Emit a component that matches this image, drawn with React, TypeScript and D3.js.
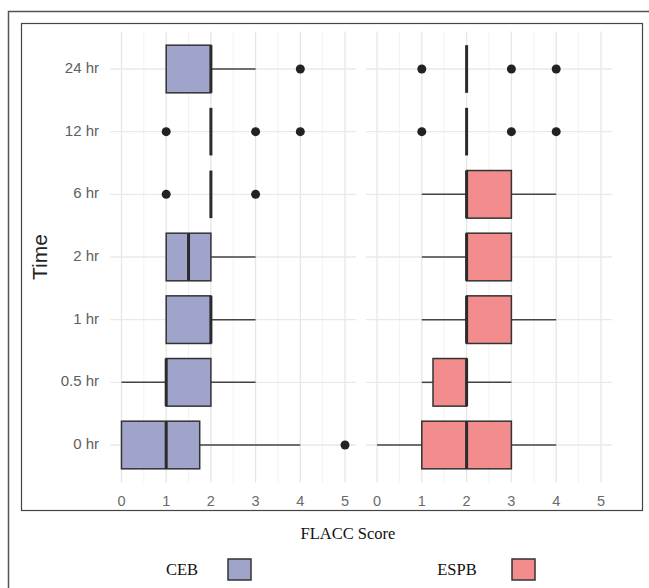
import React from "react";
import * as d3 from "d3";

const times = ["24 hr", "12 hr", "6 hr", "2 hr", "1 hr", "0.5 hr", "0 hr"];
const xTicks = [0, 1, 2, 3, 4, 5];
const groups = ["CEB", "ESPB"];

// [time, whiskerLow, q1, median, q3, whiskerHigh]
const cebStats: [string, number, number, number, number, number][] = [
  ["24 hr", 1, 1, 2, 2, 3],
  ["12 hr", 2, 2, 2, 2, 2],
  ["6 hr", 2, 2, 2, 2, 2],
  ["2 hr", 1, 1, 1.5, 2, 3],
  ["1 hr", 1, 1, 2, 2, 3],
  ["0.5 hr", 0, 1, 1, 2, 3],
  ["0 hr", 0, 0, 1, 1.75, 4],
];
const cebOutliers: [string, number][] = [
  ["24 hr", 4],
  ["12 hr", 1], ["12 hr", 3], ["12 hr", 4],
  ["6 hr", 1], ["6 hr", 3],
  ["0 hr", 5],
];
const espbStats: [string, number, number, number, number, number][] = [
  ["24 hr", 2, 2, 2, 2, 2],
  ["12 hr", 2, 2, 2, 2, 2],
  ["6 hr", 1, 2, 2, 3, 4],
  ["2 hr", 1, 2, 2, 3, 3],
  ["1 hr", 1, 2, 2, 3, 4],
  ["0.5 hr", 1, 1.25, 2, 2, 3],
  ["0 hr", 0, 1, 2, 3, 4],
];
const espbOutliers: [string, number][] = [
  ["24 hr", 1], ["24 hr", 3], ["24 hr", 4],
  ["12 hr", 1], ["12 hr", 3], ["12 hr", 4],
];

const colors = ["#a0a4ca", "#f38d8d"];

export default function App() {
  const W = 649, H = 588;
  const top = 31.4, bottom = 482.6;
  const y = d3.scalePoint<string>().domain(times).range([top, bottom]).padding(0.6);
  const step = y.step();
  const boxH = step * 0.76;
  const panels = [
    { x: d3.scaleLinear().domain([-0.25, 5.25]).range([110.3, 356.2]), stats: cebStats, out: cebOutliers, color: colors[0] },
    { x: d3.scaleLinear().domain([-0.25, 5.25]).range([365.8, 612.2]), stats: espbStats, out: espbOutliers, color: colors[1] },
  ];
  const minor = d3.range(-0.0, 5.01, 0.5).filter((v) => v % 1 !== 0);
  const sans = "'Liberation Sans', Arial, sans-serif";
  const serif = "'Liberation Serif', 'Times New Roman', serif";

  return (
    <svg width={W} height={H} style={{ position: "absolute", left: 0, top: 0, background: "#fff" }}>
      <rect x={8.5} y={11.5} width={700} height={700} fill="none" stroke="#555" strokeWidth={1.5} />
      <rect x={21.5} y={23.5} width={621} height={487} fill="none" stroke="#444" strokeWidth={1.2} />
      {panels.map((p, pi) => {
        const [r0, r1] = p.x.range();
        return (
          <g key={pi}>
            {minor.map((v) => (
              <line key={"m" + v} x1={p.x(v)} x2={p.x(v)} y1={top} y2={bottom} stroke="#f2f2f2" strokeWidth={1} />
            ))}
            {xTicks.map((v) => (
              <line key={"g" + v} x1={p.x(v)} x2={p.x(v)} y1={top} y2={bottom} stroke="#e6e6e6" strokeWidth={1.3} />
            ))}
            {times.map((t) => (
              <line key={"h" + t} x1={r0} x2={r1} y1={y(t)} y2={y(t)} stroke="#e9e9e9" strokeWidth={1.3} />
            ))}
            {xTicks.map((v) => (
              <text key={"t" + v} x={p.x(v)} y={502} textAnchor="middle" dominantBaseline="middle" fontFamily={sans} fontSize={14.5} fill="#6a6a6a">
                {v}
              </text>
            ))}
            {p.stats.map(([t, lo, q1, med, q3, hi]) => {
              const cy = y(t)!;
              return (
                <g key={t}>
                  {lo < q1 && <line x1={p.x(lo)} x2={p.x(q1)} y1={cy} y2={cy} stroke="#444" strokeWidth={1.5} />}
                  {hi > q3 && <line x1={p.x(q3)} x2={p.x(hi)} y1={cy} y2={cy} stroke="#444" strokeWidth={1.5} />}
                  <rect x={p.x(q1)} y={cy - boxH / 2} width={p.x(q3) - p.x(q1)} height={boxH} fill={p.color} stroke="#333" strokeWidth={1.5} />
                  <line x1={p.x(med)} x2={p.x(med)} y1={cy - boxH / 2} y2={cy + boxH / 2} stroke="#2b2b2b" strokeWidth={3} />
                </g>
              );
            })}
            {p.out.map(([t, v], i) => (
              <circle key={i} cx={p.x(v)} cy={y(t)} r={4.5} fill="#222" />
            ))}
          </g>
        );
      })}
      {times.map((t) => (
        <text key={t} x={99} y={y(t)} textAnchor="end" dominantBaseline="middle" fontFamily={sans} fontSize={15} fill="#5e5e5e">
          {t}
        </text>
      ))}
      <text transform={`translate(41,257) rotate(-90)`} textAnchor="middle" dominantBaseline="middle" fontFamily={sans} fontSize={21} fill="#222">
        Time
      </text>
      <text x={348} y={535} textAnchor="middle" dominantBaseline="middle" fontFamily={serif} fontSize={16.5} fill="#111">
        FLACC Score
      </text>
      {groups.map((g, i) => {
        const tx = [182, 457][i];
        const bx = [228, 512][i];
        return (
          <g key={g}>
            <text x={tx} y={571} textAnchor="middle" dominantBaseline="middle" fontFamily={serif} fontSize={16.5} fill="#111">
              {g}
            </text>
            <rect x={bx} y={559} width={23} height={21} fill={colors[i]} stroke="#333" strokeWidth={1.5} />
          </g>
        );
      })}
    </svg>
  );
}
